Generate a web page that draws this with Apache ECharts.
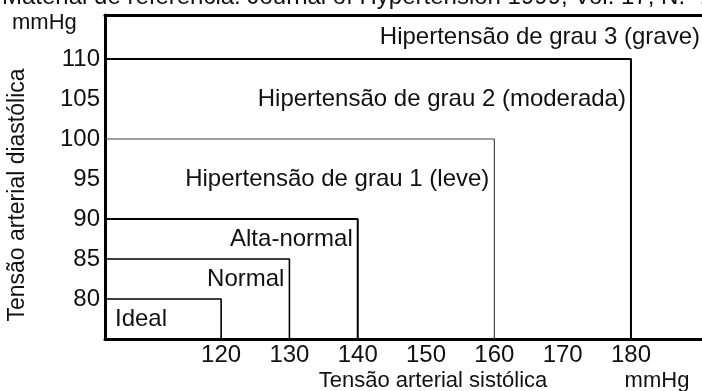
<!DOCTYPE html>
<html>
<head>
<meta charset="utf-8">
<script src="https://cdn.jsdelivr.net/npm/echarts@6/dist/echarts.min.js"></script>
<style>
  html, body { margin: 0; padding: 0; background: #fff; }
  #chart { width: 702px; height: 391px; }
</style>
</head>
<body>
<div id="chart"></div>
<script>
const chart = echarts.init(document.getElementById('chart'));

// category bounds (mmHg)
const categories = ['Ideal', 'Normal', 'Alta-normal', 'Hipertensão de grau 1 (leve)',
    'Hipertensão de grau 2 (moderada)', 'Hipertensão de grau 3 (grave)'];
const sysLimits = [120, 130, 140, 160, 180];
const diaLimits = [80, 85, 90, 100, 110];
const xTicks = [120, 130, 140, 150, 160, 170, 180];
const yTicks = [80, 85, 90, 95, 100, 105, 110];
const xRange = [103, 190.4];
const yRange = [75, 115.5];

const FONT = '"Liberation Sans", Arial, sans-serif';
const FS = 24;
const TXT = '#111';
const boxWidths = [1.6, 1.6, 2, 1.2, 2];
const boxColors = ['#000', '#000', '#000', '#444', '#000'];

// one polyline per box: from the left axis, across, then down to the bottom axis
const boxSeries = sysLimits.map((s, i) => ({
    type: 'line',
    silent: true,
    symbol: 'none',
    data: [[xRange[0], diaLimits[i]], [s, diaLimits[i]], [s, yRange[0]]],
    lineStyle: { color: boxColors[i], width: boxWidths[i] }
}));

// labels sit in the middle of their band, right-aligned against the box edge
const labelData = categories.map((name, i) => {
    if (i === 0) {
        return { name, value: [xRange[0], (yRange[0] + diaLimits[0]) / 2],
                 label: { position: 'right', distance: 10 } };
    }
    if (i === categories.length - 1) {
        return { name, value: [xRange[1], (diaLimits[i - 1] + yRange[1]) / 2],
                 label: { position: 'left', distance: 2 } };
    }
    return { name, value: [sysLimits[i], (diaLimits[i - 1] + diaLimits[i]) / 2],
             label: { position: 'left', distance: 5 } };
});

const axisLine = { show: true, onZero: false, lineStyle: { color: '#000', width: 3 } };

const option = {
    animation: false,
    grid: { left: 105, right: 0, top: 15, bottom: 52 },
    xAxis: [
        {
            type: 'value', position: 'bottom', min: xRange[0], max: xRange[1],
            axisLine, axisTick: { show: false }, splitLine: { show: false },
            axisLabel: { customValues: xTicks, fontSize: FS, fontFamily: FONT, color: TXT, margin: 4 }
        },
        {
            type: 'value', position: 'top', min: xRange[0], max: xRange[1],
            axisLine, axisTick: { show: false }, splitLine: { show: false },
            axisLabel: { show: false }
        }
    ],
    yAxis: {
        type: 'value', min: yRange[0], max: yRange[1],
        axisLine, axisTick: { show: false }, splitLine: { show: false },
        axisLabel: { customValues: yTicks, fontSize: FS, fontFamily: FONT, color: TXT, margin: 5 }
    },
    series: [
        ...boxSeries,
        {
            type: 'scatter',
            silent: true,
            symbolSize: 0,
            itemStyle: { opacity: 1, color: 'transparent' },
            data: labelData,
            label: {
                show: true, formatter: '{b}', opacity: 1,
                fontSize: FS, fontFamily: FONT, color: TXT
            }
        }
    ],
    graphic: [
        { type: 'text', x: 2, y: -3, style: { text: 'Material de referência: Journal of Hypertension 1999, Vol. 17, N.º 2',
            font: FS + 'px ' + FONT, fill: TXT, verticalAlign: 'middle' } },
        { type: 'text', x: 12, y: 23, style: { text: 'mmHg', font: '22px ' + FONT, fill: TXT, verticalAlign: 'middle' } },
        { type: 'text', x: 18, y: 195, rotation: Math.PI / 2,
            style: { text: 'Tensão arterial diastólica', font: '23px ' + FONT, fill: TXT,
                align: 'center', verticalAlign: 'middle' } },
        { type: 'text', x: 433, y: 381, style: { text: 'Tensão arterial sistólica', font: '22px ' + FONT,
            fill: TXT, align: 'center', verticalAlign: 'middle' } },
        { type: 'text', x: 657, y: 381, style: { text: 'mmHg', font: '22px ' + FONT,
            fill: TXT, align: 'center', verticalAlign: 'middle' } }
    ]
};

chart.setOption(option);
window.addEventListener('resize', () => chart.resize());
</script>
</body>
</html>
